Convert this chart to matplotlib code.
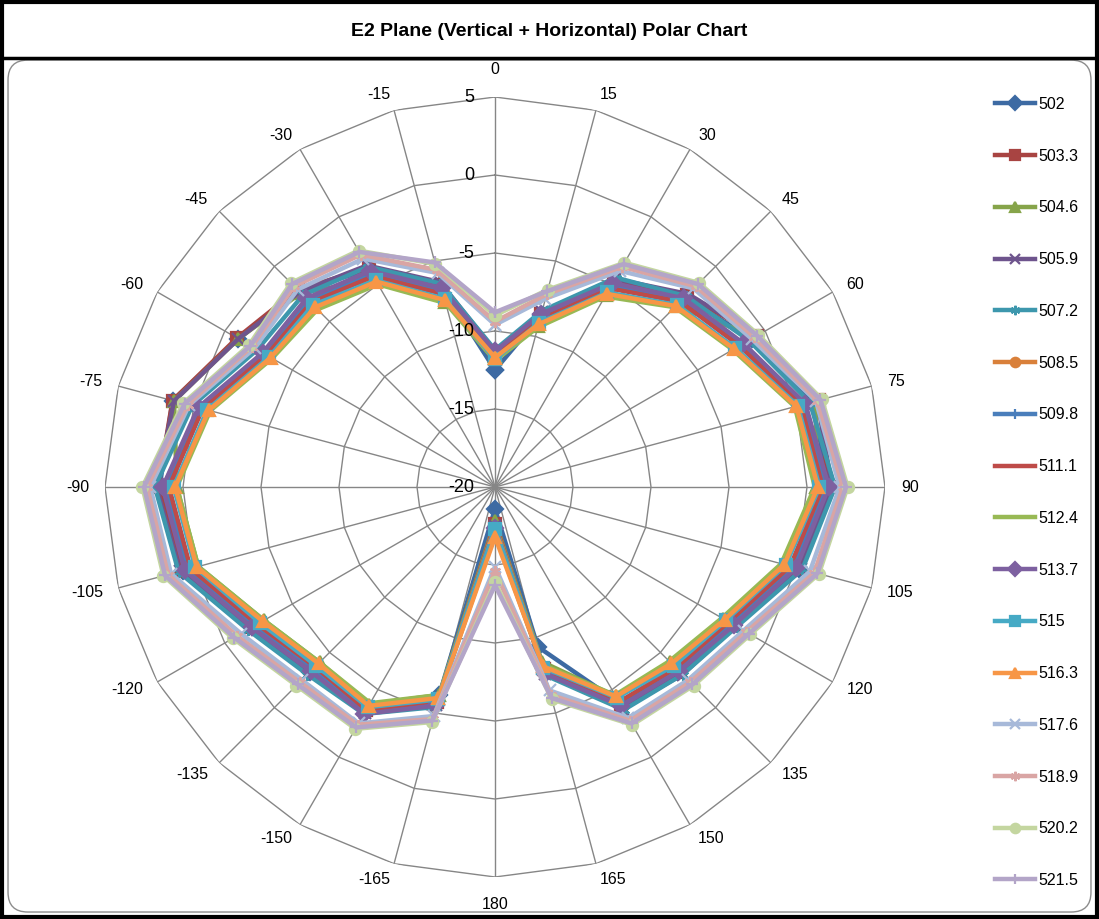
import numpy as np
import matplotlib
matplotlib.use('Agg')
import matplotlib.pyplot as plt
from matplotlib.patches import FancyBboxPatch, Rectangle
from matplotlib.lines import Line2D

plt.rcParams['font.family'] = ['Liberation Sans', 'DejaVu Sans']

# Kategorie katowe (stopnie) i poziomy siatki
angles = [0, 15, 30, 45, 60, 75, 90, 105, 120, 135, 150, 165, 180,
          -165, -150, -135, -120, -105, -90, -75, -60, -45, -30, -15]
levels = [-20, -15, -10, -5, 0, 5]

# Serie (czestotliwosci) - wartosci
s502 = [-12.5, -8.6, -4.8, -2.8, -1.0, 1.0, 1.5, 0.2, -2.4, -3.3, -4.0, -9.4, -18.6,
        -6.2, -3.4, -3.2, -2.0, 0.7, 1.5, 1.4, -1.0, -2.2, -3.9, -6.6]
s503_3 = [-11.5, -8.5, -4.7, -2.6, -0.6, 1.5, 1.4, 0.0, -2.5, -3.2, -3.8, -7.9, -17.6,
          -5.7, -3.5, -3.3, -2.0, 0.8, 1.6, 1.4, -0.9, -2.1, -3.8, -6.6]
s504_6 = [-11.6, -9.3, -5.8, -3.6, -0.7, 1.3, 0.6, -0.9, -3.1, -4.1, -4.5, -8.4, -17.8,
          -6.2, -3.9, -4.1, -2.9, -0.3, 0.4, 1.3, -1.0, -2.4, -4.7, -7.7]
s505_9 = [-11.3, -8.4, -4.6, -2.5, -0.6, 1.4, 1.6, 0.3, -2.2, -3.0, -3.6, -7.6, -17.5,
          -5.5, -3.3, -3.1, -1.8, 0.9, 1.7, 1.3, -1.0, -2.3, -3.6, -6.4]
s507_2 = [-11.2, -8.3, -4.5, -2.7, -1.2, 0.9, 1.8, 0.4, -2.1, -3.0, -3.5, -7.5, -17.4,
          -5.4, -3.2, -3.0, -1.7, 1.0, 1.8, 0.1, -2.4, -2.6, -3.7, -6.5]
s508_5 = [-11.4, -8.7, -5.2, -3.1, -1.8, 0.4, 1.2, -0.3, -2.6, -3.5, -4.0, -7.7, -17.0,
          -5.7, -3.5, -3.6, -2.4, 0.3, 1.3, -0.5, -3.0, -3.2, -4.4, -7.1]
s509_8 = [-11.5, -8.8, -5.1, -3.0, -1.7, 0.5, 1.2, -0.2, -2.5, -3.5, -3.9, -7.8, -17.3,
          -5.6, -3.4, -3.5, -2.2, 0.4, 1.1, -0.4, -2.9, -3.1, -4.2, -7.0]
s511_1 = [-11.6, -8.9, -5.3, -3.2, -1.9, 0.3, 1.0, -0.4, -2.7, -3.6, -4.1, -7.9, -17.7,
          -5.8, -3.5, -3.7, -2.4, 0.2, 0.9, -0.6, -3.1, -3.3, -4.4, -7.2]
s512_4 = [-11.9, -9.4, -5.9, -3.7, -2.4, -0.1, 0.5, -1.0, -3.2, -4.2, -4.6, -8.2, -17.5,
          -6.2, -4.0, -4.1, -2.9, -0.3, 0.4, -1.1, -3.5, -3.9, -5.0, -7.8]
s513_7 = [-11.3, -8.5, -4.9, -2.9, -1.6, 0.6, 1.4, 0.0, -2.3, -3.3, -3.8, -7.6, -17.4,
          -5.5, -3.2, -3.3, -2.0, 0.6, 1.3, -0.3, -2.8, -2.9, -4.0, -6.8]
s515 = [-11.8, -9.1, -5.6, -3.5, -2.2, 0.1, 0.8, -0.7, -2.9, -3.8, -4.4, -8.0, -17.3,
        -5.9, -3.7, -3.8, -2.6, -0.1, 0.6, -0.9, -3.3, -3.5, -4.7, -7.5]
s516_3 = [-11.7, -9.2, -5.7, -3.6, -2.3, 0.0, 0.7, -0.8, -3.0, -4.0, -4.5, -8.1, -16.8,
          -6.0, -3.8, -4.0, -2.8, -0.2, 0.5, -1.0, -3.4, -3.7, -4.8, -7.6]
s517_6 = [-9.6, -7.5, -4.0, -2.0, -1.0, 1.3, 2.1, 0.9, -1.6, -2.5, -2.9, -6.5, -14.9,
          -4.8, -2.5, -2.5, -1.2, 1.5, 2.1, 0.3, -2.2, -2.1, -3.1, -5.8]
s518_9 = [-9.4, -7.2, -3.7, -1.8, -0.8, 1.4, 2.3, 1.2, -1.4, -2.3, -2.7, -6.2, -14.6,
          -4.6, -2.4, -2.3, -0.9, 1.7, 2.3, 0.4, -2.0, -1.8, -2.8, -5.6]
s520_2 = [-9.0, -6.9, -3.4, -1.5, -0.5, 1.7, 2.6, 1.5, -1.1, -2.0, -2.4, -5.9, -13.9,
          -4.4, -2.1, -2.0, -0.6, 2.0, 2.6, 0.7, -1.8, -1.5, -2.5, -5.2]
s521_5 = [-8.8, -7.0, -3.5, -1.6, -0.6, 1.6, 2.5, 1.4, -1.2, -2.1, -2.5, -6.0, -13.7,
          -4.5, -2.2, -2.1, -0.7, 1.9, 2.5, 0.6, -1.9, -1.6, -2.6, -5.1]

labels = ['502', '503.3', '504.6', '505.9', '507.2', '508.5', '509.8', '511.1',
          '512.4', '513.7', '515', '516.3', '517.6', '518.9', '520.2', '521.5']
series = [s502, s503_3, s504_6, s505_9, s507_2, s508_5, s509_8, s511_1,
          s512_4, s513_7, s515, s516_3, s517_6, s518_9, s520_2, s521_5]
colors = ['#3D6AA3', '#A84442', '#86A44A', '#6E548D', '#3D97AD', '#D9803A',
          '#4A7EBB', '#BE4B48', '#98B954', '#7D60A0', '#46AAC5', '#F79646',
          '#A7B9D9', '#D9A5A4', '#C4D6A0', '#B3A5C8']
markers = ['D', 's', '^', 'x', (6, 2, 0), 'o', '+', None,
           None, 'D', 's', '^', 'x', (6, 2, 0), 'o', '+']

fig = plt.figure(figsize=(10.99, 9.19), dpi=100)

# ramki
fig.add_artist(Rectangle((0.002, 0.002), 0.996, 0.996, transform=fig.transFigure,
                         fill=False, ec='black', lw=3))
fig.add_artist(Line2D([0, 1], [0.937, 0.937], color='black', lw=2.5))
fig.add_artist(FancyBboxPatch((0.0073, 0.0076), 0.9854, 0.927, transform=fig.transFigure,
                              boxstyle='round,pad=0,rounding_size=0.018',
                              mutation_aspect=1099 / 919, fill=False, ec='#8C8C8C', lw=1))
fig.text(0.5, 1 - 31 / 919, 'E2 Plane (Vertical + Horizontal) Polar Chart',
         ha='center', va='center', fontsize=14, weight='bold')

ax = fig.add_axes([0.09554, 0.0457, 0.70974, 0.84875], projection='polar')
ax.set_theta_zero_location('N')
ax.set_theta_direction(-1)
ax.set_ylim(levels[0], levels[-1])
ax.grid(False)
ax.spines['polar'].set_visible(False)
ax.set_xticks([])
ax.set_yticks([])
ax.patch.set_alpha(0)

theta = np.deg2rad(angles)
theta_c = np.append(theta, theta[0])

# siatka wielokatna
for lv in levels[1:]:
    ax.plot(theta_c, [lv] * len(theta_c), color='#868686', lw=1, zorder=1)
for t in theta:
    ax.plot([t, t], [levels[0], levels[-1]], color='#868686', lw=1, zorder=1)

# etykiety katow (jak w Excelu: przy wierzcholku, wyrownane od strony wykresu)
for t, a in zip(theta, angles):
    sn, cs = np.sin(t), np.cos(t)
    if abs(sn) < 0.05:
        off, ha = (0, 19.5 * np.sign(cs)), 'center'
    else:
        off, ha = (11.5 * sn, 11.5 * cs), ('left' if sn > 0 else 'right')
    ax.annotate(str(a), xy=(t, levels[-1]), xytext=off, textcoords='offset points',
                ha=ha, va='center', fontsize=11.5, annotation_clip=False)

# etykiety promienia
for lv in levels:
    ax.annotate(str(lv), xy=(0, lv), xytext=(-15, 0), textcoords='offset points',
                ha='right', va='center', fontsize=13, zorder=5)

for s, lab, col, mk in zip(series, labels, colors, markers):
    ax.plot(theta_c, np.append(s, s[0]), color=col, lw=3.2, marker=mk, markersize=8,
            markeredgewidth=1.6, markerfacecolor=col, markeredgecolor=col,
            label=lab, clip_on=False, zorder=3)

fig.legend(loc='upper left', bbox_to_anchor=(995 / 1099, 1 - 97 / 919),
           frameon=False, fontsize=11.5, handlelength=2.5, handletextpad=0.2,
           labelspacing=2.3, borderpad=0, borderaxespad=0, markerscale=0.85)

fig.savefig('out.png', dpi=100)
